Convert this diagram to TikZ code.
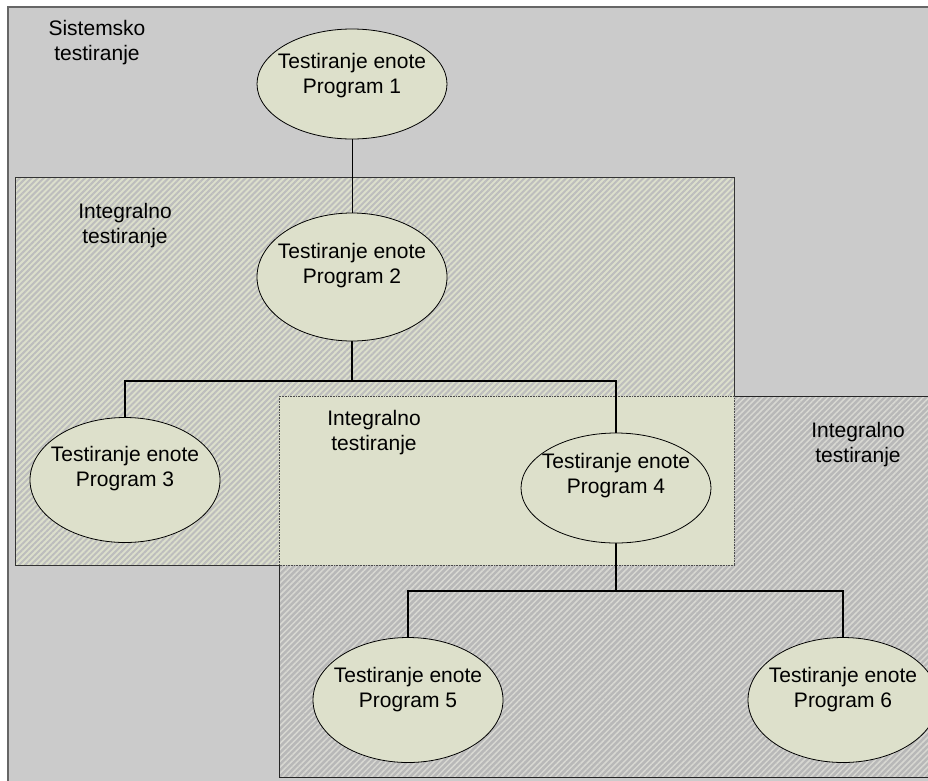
\documentclass[tikz,border=0pt]{standalone}
\usepackage{fontspec}
\setmainfont{Liberation Sans}
\usetikzlibrary{shapes.geometric,patterns.meta}

\definecolor{bggray}{HTML}{CBCBCB}
\definecolor{framegray}{HTML}{666666}
\definecolor{unitfill}{HTML}{DDE0CB}
\definecolor{hatchlight}{HTML}{DCDFCC}
\definecolor{hatchdark}{HTML}{BDBDBD}
\definecolor{hatchbase}{HTML}{B8B8B8}
\definecolor{hatchpale}{HTML}{D8D8D2}

\tikzset{
  txt/.style={font=\fontsize{21}{25}\selectfont, align=center, inner sep=0pt},
  unit/.style={ellipse, draw=black, line width=0.8pt, fill=unitfill,
               minimum width=190pt, minimum height=#1, inner sep=0pt},
  link/.style={draw=black, line width=2pt},
  thinlink/.style={draw=black, line width=0.8pt},
  zoneA/.style={draw=black!80, line width=0.8pt,
                preaction={fill=hatchlight},
                preaction={pattern={Lines[angle=45,distance=4.2pt,line width=2pt]},
                           pattern color=hatchdark}},
  zoneB/.style={draw=black!85, line width=0.8pt,
                preaction={fill=hatchbase},
                preaction={pattern={Lines[angle=45,distance=4.2pt,line width=1.5pt]},
                           pattern color=hatchpale}},
  overlap/.style={draw=black!70, densely dotted, line width=0.6pt, fill=unitfill}
}

\begin{document}
\begin{tikzpicture}[x=1pt,y=-1pt]
\useasboundingbox (0,0) rectangle (928,780);

% system-level frame
\fill[bggray, draw=framegray, line width=2pt] (8,7) rectangle (945,795);

% integration zones
\path[zoneA] (15,177) rectangle (734,565);
\path[zoneB] (279,396) rectangle (945,777);
\path[overlap] (279,396) rectangle (734,565);

% zone captions
\node[txt] (capS) at (97,43) {Sistemsko\\testiranje};
\node[txt] (capA) at (125,226) {Integralno\\testiranje};
\node[txt] (capM) at (374,433) {Integralno\\testiranje};
\node[txt] (capB) at (858,445) {Integralno\\testiranje};

% bus junctions
\coordinate (b2) at (352,381);
\coordinate (b4) at (616,591);

% connectors (drawn first so the ellipses cover their ends)
\path (352,84) coordinate (p1) (352,277) coordinate (p2) (125,480) coordinate (p3)
      (616,488) coordinate (p4) (408,700) coordinate (p5) (843,700) coordinate (p6);
\draw[thinlink] (p1) -- (p2);
\draw[link] (p2) -- (b2);
\draw[link] (b2) -| (p3);
\draw[link] (b2) -| (p4);
\draw[link] (p4) -- (b4);
\draw[link] (b4) -| (p5);
\draw[link] (b4) -| (p6);

% unit-test ellipses
\node[unit=110pt] (e1) at (p1) {};
\node[unit=128pt] (e2) at (p2) {};
\node[unit=125pt] (e3) at (p3) {};
\node[unit=110pt] (e4) at (p4) {};
\node[unit=125pt] (e5) at (p5) {};
\node[unit=125pt] (e6) at (p6) {};

% ellipse texts
\node[txt] (t1) at ([yshift=8pt]e1.center) {Testiranje enote\\Program 1};
\node[txt] (t2) at ([yshift=11pt]e2.center) {Testiranje enote\\Program 2};
\node[txt] (t3) at ([yshift=11pt]e3.center) {Testiranje enote\\Program 3};
\node[txt] (t4) at ([yshift=12pt]e4.center) {Testiranje enote\\Program 4};
\node[txt] (t5) at ([yshift=10pt]e5.center) {Testiranje enote\\Program 5};
\node[txt] (t6) at ([yshift=10pt]e6.center) {Testiranje enote\\Program 6};
\end{tikzpicture}
\end{document}
